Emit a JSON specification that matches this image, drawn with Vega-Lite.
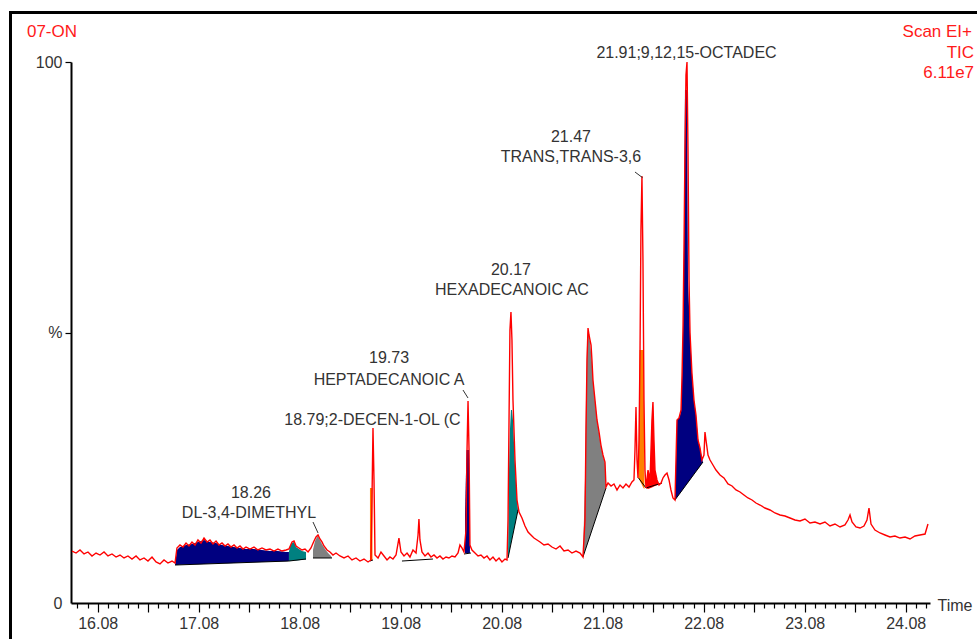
{
  "$schema": "https://vega.github.io/schema/vega-lite/v6.json",
  "width": 859,
  "height": 541,
  "autosize": {"type": "none"},
  "padding": {"left": 71, "top": 62, "right": 47, "bottom": 36},
  "background": "white",
  "config": {"view": {"stroke": null}, "font": "Liberation Sans"},
  "datasets": {
    "trace": [
      {"t":15.826,"v":9.61},{"t":15.866,"v":9.24},{"t":15.905,"v":9.80},{"t":15.945,"v":9.06},{"t":15.984,"v":9.43},{"t":16.024,"v":8.69},{"t":16.064,"v":9.24},{"t":16.103,"v":8.87},{"t":16.143,"v":9.43},{"t":16.182,"v":8.69},{"t":16.222,"v":9.06},{"t":16.262,"v":8.50},{"t":16.301,"v":8.87},{"t":16.341,"v":8.32},{"t":16.380,"v":8.69},{"t":16.420,"v":8.13},{"t":16.460,"v":8.69},{"t":16.499,"v":7.95},{"t":16.539,"v":8.32},{"t":16.578,"v":7.76},{"t":16.618,"v":8.50},{"t":16.658,"v":7.58},{"t":16.697,"v":7.21},{"t":16.737,"v":7.95},{"t":16.776,"v":7.39},{"t":16.816,"v":7.76},{"t":16.846,"v":7.39},
      {"t":16.865,"v":10.17},{"t":16.895,"v":10.72},{"t":16.925,"v":10.35},{"t":16.955,"v":11.09},{"t":16.984,"v":10.54},{"t":17.014,"v":11.28},{"t":17.044,"v":10.72},{"t":17.073,"v":11.65},{"t":17.103,"v":11.09},{"t":17.133,"v":12.01},{"t":17.163,"v":11.28},{"t":17.192,"v":11.65},{"t":17.222,"v":10.91},{"t":17.252,"v":11.46},{"t":17.281,"v":10.72},{"t":17.311,"v":11.09},{"t":17.341,"v":10.54},{"t":17.370,"v":10.91},{"t":17.400,"v":10.35},{"t":17.430,"v":10.72},{"t":17.460,"v":10.17},{"t":17.489,"v":10.54},{"t":17.519,"v":9.98},{"t":17.549,"v":10.35},{"t":17.588,"v":9.98},{"t":17.628,"v":10.35},{"t":17.667,"v":9.80},{"t":17.707,"v":10.17},{"t":17.747,"v":9.80},{"t":17.786,"v":9.98},{"t":17.826,"v":9.61},{"t":17.865,"v":9.98},{"t":17.905,"v":9.61},{"t":17.945,"v":9.80},{"t":17.974,"v":9.98},
      {"t":18.004,"v":11.28},{"t":18.024,"v":11.46},{"t":18.044,"v":10.54},{"t":18.073,"v":10.17},{"t":18.103,"v":9.80},{"t":18.133,"v":9.98},{"t":18.163,"v":9.43},{"t":18.192,"v":10.17},{"t":18.222,"v":11.46},{"t":18.242,"v":12.20},{"t":18.262,"v":12.57},{"t":18.281,"v":11.83},{"t":18.301,"v":11.28},{"t":18.321,"v":10.54},{"t":18.351,"v":9.80},{"t":18.380,"v":9.43},{"t":18.410,"v":8.87},{"t":18.440,"v":9.24},{"t":18.479,"v":8.69},{"t":18.519,"v":8.32},{"t":18.559,"v":8.69},{"t":18.598,"v":7.95},{"t":18.638,"v":8.32},{"t":18.677,"v":7.76},{"t":18.717,"v":8.13},{"t":18.757,"v":7.58},{"t":18.786,"v":7.95},
      {"t":18.796,"v":19.04},{"t":18.806,"v":32.35},{"t":18.816,"v":22.74},{"t":18.826,"v":8.87},{"t":18.856,"v":8.32},{"t":18.885,"v":9.43},{"t":18.915,"v":8.69},{"t":18.945,"v":7.95},{"t":18.974,"v":8.50},{"t":19.004,"v":8.13},{"t":19.034,"v":8.87},{"t":19.063,"v":12.01},{"t":19.083,"v":9.43},{"t":19.113,"v":8.69},{"t":19.143,"v":9.24},{"t":19.172,"v":8.50},{"t":19.202,"v":9.80},{"t":19.232,"v":9.24},{"t":19.252,"v":12.57},{"t":19.261,"v":15.53},{"t":19.271,"v":11.65},{"t":19.291,"v":9.43},{"t":19.321,"v":8.69},{"t":19.351,"v":9.24},{"t":19.380,"v":8.50},{"t":19.410,"v":8.87},{"t":19.440,"v":8.32},{"t":19.469,"v":8.69},{"t":19.499,"v":8.13},{"t":19.529,"v":8.50},{"t":19.558,"v":8.32},{"t":19.588,"v":8.69},{"t":19.618,"v":8.50},{"t":19.648,"v":9.24},{"t":19.667,"v":10.72},{"t":19.687,"v":10.17},{"t":19.707,"v":9.43},
      {"t":19.727,"v":13.49},{"t":19.737,"v":28.28},{"t":19.747,"v":37.34},{"t":19.757,"v":28.28},{"t":19.766,"v":10.72},{"t":19.786,"v":9.80},{"t":19.816,"v":9.24},{"t":19.846,"v":8.69},{"t":19.875,"v":8.87},{"t":19.905,"v":8.32},{"t":19.935,"v":8.69},{"t":19.964,"v":7.95},{"t":19.994,"v":8.50},{"t":20.024,"v":7.76},{"t":20.054,"v":8.32},{"t":20.083,"v":7.58},{"t":20.113,"v":8.13},{"t":20.133,"v":7.95},
      {"t":20.143,"v":15.34},{"t":20.153,"v":33.83},{"t":20.162,"v":50.46},{"t":20.172,"v":53.79},{"t":20.182,"v":48.61},{"t":20.192,"v":37.52},{"t":20.212,"v":26.43},{"t":20.232,"v":19.04},{"t":20.252,"v":16.82},{"t":20.281,"v":15.71},{"t":20.311,"v":14.23},{"t":20.341,"v":13.12},{"t":20.370,"v":12.57},{"t":20.400,"v":12.01},{"t":20.430,"v":11.65},{"t":20.460,"v":11.28},{"t":20.499,"v":10.72},{"t":20.539,"v":10.91},{"t":20.578,"v":10.35},{"t":20.618,"v":9.98},{"t":20.658,"v":10.54},{"t":20.697,"v":9.61},{"t":20.737,"v":9.80},{"t":20.776,"v":9.24},{"t":20.816,"v":9.61},{"t":20.856,"v":9.24},{"t":20.885,"v":8.50},
      {"t":20.905,"v":15.34},{"t":20.915,"v":31.98},{"t":20.925,"v":44.92},{"t":20.935,"v":50.83},{"t":20.945,"v":49.54},{"t":20.955,"v":48.61},{"t":20.965,"v":47.69},{"t":20.974,"v":44.92},{"t":20.984,"v":41.22},{"t":21.004,"v":37.52},{"t":21.024,"v":33.83},{"t":21.044,"v":31.61},{"t":21.063,"v":29.20},{"t":21.083,"v":27.36},{"t":21.103,"v":26.06},{"t":21.113,"v":21.44},{"t":21.133,"v":22.18},{"t":21.163,"v":21.63},{"t":21.192,"v":22.00},{"t":21.222,"v":20.89},{"t":21.252,"v":21.81},{"t":21.281,"v":21.26},{"t":21.311,"v":22.00},{"t":21.341,"v":21.44},{"t":21.370,"v":22.37},{"t":21.390,"v":22.74},
      {"t":21.400,"v":28.28},{"t":21.410,"v":36.23},{"t":21.420,"v":26.43},{"t":21.430,"v":23.11},{"t":21.440,"v":30.13},{"t":21.450,"v":46.77},{"t":21.459,"v":68.94},{"t":21.469,"v":78.93},{"t":21.479,"v":63.40},{"t":21.489,"v":37.52},{"t":21.499,"v":24.58},{"t":21.509,"v":21.26},{"t":21.529,"v":24.58},{"t":21.549,"v":22.74},{"t":21.568,"v":33.83},{"t":21.578,"v":37.15},{"t":21.588,"v":30.13},{"t":21.598,"v":24.58},{"t":21.618,"v":22.74},{"t":21.638,"v":21.81},{"t":21.658,"v":22.18},{"t":21.677,"v":23.11},{"t":21.697,"v":23.66},{"t":21.717,"v":24.03},{"t":21.737,"v":22.74},{"t":21.756,"v":20.89},{"t":21.776,"v":19.41},{"t":21.796,"v":19.04},
      {"t":21.806,"v":26.43},{"t":21.816,"v":33.83},{"t":21.836,"v":34.20},{"t":21.856,"v":35.67},{"t":21.866,"v":42.14},{"t":21.876,"v":51.39},{"t":21.885,"v":65.25},{"t":21.895,"v":83.73},{"t":21.905,"v":97.60},{"t":21.915,"v":100.0},{"t":21.925,"v":83.73},{"t":21.935,"v":59.70},{"t":21.945,"v":49.91},{"t":21.964,"v":42.51},{"t":21.984,"v":37.52},{"t":22.004,"v":34.75},{"t":22.024,"v":30.13},{"t":22.044,"v":28.65},{"t":22.063,"v":26.43},{"t":22.083,"v":27.36},{"t":22.093,"v":31.61},{"t":22.103,"v":30.13},{"t":22.123,"v":27.36},{"t":22.143,"v":26.43},{"t":22.172,"v":25.51},{"t":22.202,"v":24.58},{"t":22.242,"v":23.66},{"t":22.281,"v":23.11},{"t":22.321,"v":22.00},{"t":22.361,"v":21.63},{"t":22.400,"v":20.89},{"t":22.440,"v":20.52},{"t":22.479,"v":19.96},{"t":22.519,"v":19.41},{"t":22.559,"v":19.04},{"t":22.598,"v":18.48},{"t":22.638,"v":18.11},{"t":22.687,"v":17.56},{"t":22.737,"v":17.19},{"t":22.786,"v":16.64},{"t":22.836,"v":16.27},{"t":22.885,"v":16.08},{"t":22.935,"v":15.71},{"t":22.984,"v":15.34},{"t":23.034,"v":15.16},{"t":23.083,"v":15.53},{"t":23.133,"v":14.79},{"t":23.182,"v":14.97},{"t":23.232,"v":14.60},{"t":23.281,"v":14.97},{"t":23.331,"v":14.23},{"t":23.380,"v":14.60},{"t":23.430,"v":14.05},{"t":23.479,"v":14.42},{"t":23.509,"v":15.34},{"t":23.529,"v":16.27},{"t":23.549,"v":14.97},{"t":23.588,"v":14.05},{"t":23.628,"v":13.86},{"t":23.667,"v":14.23},{"t":23.697,"v":15.34},{"t":23.717,"v":17.56},{"t":23.737,"v":14.60},{"t":23.776,"v":13.49},{"t":23.826,"v":12.94},{"t":23.875,"v":12.57},{"t":23.925,"v":12.20},{"t":23.974,"v":12.38},{"t":24.024,"v":12.01},{"t":24.074,"v":12.20},{"t":24.123,"v":11.83},{"t":24.172,"v":12.38},{"t":24.222,"v":12.57},{"t":24.272,"v":12.75},{"t":24.301,"v":14.60}
    ],
    "fills": [
      {"g":"n1","t":16.846,"v":7.02,"v2":7.02},{"g":"n1","t":16.865,"v":9.80,"v2":7.04},{"g":"n1","t":16.895,"v":10.35,"v2":7.06},{"g":"n1","t":16.955,"v":10.72,"v2":7.10},{"g":"n1","t":17.014,"v":10.91,"v2":7.14},{"g":"n1","t":17.073,"v":11.28,"v2":7.18},{"g":"n1","t":17.133,"v":11.65,"v2":7.21},{"g":"n1","t":17.192,"v":11.28,"v2":7.25},{"g":"n1","t":17.252,"v":11.09,"v2":7.29},{"g":"n1","t":17.311,"v":10.72,"v2":7.33},{"g":"n1","t":17.370,"v":10.54,"v2":7.37},{"g":"n1","t":17.430,"v":10.35,"v2":7.41},{"g":"n1","t":17.489,"v":10.17,"v2":7.44},{"g":"n1","t":17.549,"v":9.98,"v2":7.48},{"g":"n1","t":17.628,"v":9.98,"v2":7.54},{"g":"n1","t":17.707,"v":9.80,"v2":7.59},{"g":"n1","t":17.786,"v":9.61,"v2":7.64},{"g":"n1","t":17.865,"v":9.61,"v2":7.69},{"g":"n1","t":17.945,"v":9.43,"v2":7.74},{"g":"n1","t":17.974,"v":9.43,"v2":7.76},
      {"g":"t1","t":17.974,"v":9.43,"v2":7.76},{"g":"t1","t":17.984,"v":10.54,"v2":7.78},{"g":"t1","t":18.004,"v":11.09,"v2":7.80},{"g":"t1","t":18.024,"v":11.28,"v2":7.84},{"g":"t1","t":18.044,"v":10.35,"v2":7.87},{"g":"t1","t":18.073,"v":9.98,"v2":7.91},{"g":"t1","t":18.103,"v":9.61,"v2":7.98},{"g":"t1","t":18.143,"v":9.43,"v2":8.06},
      {"g":"g1","t":18.212,"v":9.80,"v2":8.32},{"g":"g1","t":18.232,"v":11.46,"v2":8.32},{"g":"g1","t":18.252,"v":12.20,"v2":8.32},{"g":"g1","t":18.262,"v":12.38,"v2":8.32},{"g":"g1","t":18.281,"v":11.65,"v2":8.32},{"g":"g1","t":18.301,"v":10.91,"v2":8.32},{"g":"g1","t":18.331,"v":9.98,"v2":8.32},{"g":"g1","t":18.361,"v":9.24,"v2":8.32},{"g":"g1","t":18.390,"v":8.69,"v2":8.32},{"g":"g1","t":18.400,"v":8.32,"v2":8.32},
      {"g":"o1","t":18.776,"v":21.26,"v2":7.95},{"g":"o1","t":18.801,"v":21.26,"v2":7.95},
      {"g":"n2","t":19.717,"v":16.27,"v2":9.24},{"g":"n2","t":19.732,"v":28.28,"v2":9.24},{"g":"n2","t":19.757,"v":28.28,"v2":9.24},{"g":"n2","t":19.766,"v":16.64,"v2":9.24},
      {"g":"t2","t":20.143,"v":8.32,"v2":8.32},{"g":"t2","t":20.153,"v":24.58,"v2":9.21},{"g":"t2","t":20.162,"v":31.98,"v2":10.09},{"g":"t2","t":20.172,"v":35.67,"v2":10.98},{"g":"t2","t":20.182,"v":35.67,"v2":11.87},{"g":"t2","t":20.192,"v":33.83,"v2":12.75},{"g":"t2","t":20.212,"v":25.51,"v2":14.53},{"g":"t2","t":20.232,"v":19.04,"v2":16.30},{"g":"t2","t":20.242,"v":17.19,"v2":17.19},
      {"g":"g2","t":20.885,"v":8.50,"v2":8.50},{"g":"g2","t":20.905,"v":22.74,"v2":9.61},{"g":"g2","t":20.915,"v":37.52,"v2":10.17},{"g":"g2","t":20.925,"v":47.69,"v2":10.72},{"g":"g2","t":20.935,"v":50.46,"v2":11.28},{"g":"g2","t":20.955,"v":48.24,"v2":12.38},{"g":"g2","t":20.974,"v":44.55,"v2":13.49},{"g":"g2","t":20.984,"v":41.22,"v2":14.05},{"g":"g2","t":21.004,"v":37.52,"v2":15.16},{"g":"g2","t":21.024,"v":33.83,"v2":16.27},{"g":"g2","t":21.044,"v":31.42,"v2":17.38},{"g":"g2","t":21.063,"v":29.02,"v2":18.48},{"g":"g2","t":21.083,"v":27.17,"v2":19.59},{"g":"g2","t":21.103,"v":25.88,"v2":20.70},{"g":"g2","t":21.113,"v":21.26,"v2":21.26},
      {"g":"o2","t":21.435,"v":23.11,"v2":23.11},{"g":"o2","t":21.445,"v":46.77,"v2":22.74},{"g":"o2","t":21.484,"v":46.77,"v2":21.26},{"g":"o2","t":21.494,"v":21.07,"v2":21.07},
      {"g":"r1","t":21.509,"v":21.26,"v2":21.26},{"g":"r1","t":21.529,"v":24.58,"v2":21.05},{"g":"r1","t":21.549,"v":22.74,"v2":21.21},{"g":"r1","t":21.568,"v":33.83,"v2":21.37},{"g":"r1","t":21.578,"v":37.15,"v2":21.44},{"g":"r1","t":21.588,"v":30.13,"v2":21.53},{"g":"r1","t":21.598,"v":24.58,"v2":21.61},{"g":"r1","t":21.618,"v":22.74,"v2":21.77},{"g":"r1","t":21.638,"v":22.00,"v2":21.92},{"g":"r1","t":21.658,"v":22.18,"v2":22.11},{"g":"r1","t":21.668,"v":22.30,"v2":22.30},
      {"g":"n3","t":21.796,"v":19.04,"v2":19.04},{"g":"n3","t":21.806,"v":26.06,"v2":19.30},{"g":"n3","t":21.816,"v":33.83,"v2":19.54},{"g":"n3","t":21.836,"v":34.20,"v2":20.04},{"g":"n3","t":21.856,"v":35.30,"v2":20.54},{"g":"n3","t":21.866,"v":41.22,"v2":20.78},{"g":"n3","t":21.876,"v":50.46,"v2":21.04},{"g":"n3","t":21.885,"v":65.25,"v2":21.28},{"g":"n3","t":21.895,"v":94.82,"v2":21.53},{"g":"n3","t":21.915,"v":94.82,"v2":22.03},{"g":"n3","t":21.925,"v":59.70,"v2":22.29},{"g":"n3","t":21.945,"v":49.91,"v2":22.79},{"g":"n3","t":21.964,"v":42.51,"v2":23.29},{"g":"n3","t":21.984,"v":37.52,"v2":23.79},{"g":"n3","t":22.004,"v":34.75,"v2":24.29},{"g":"n3","t":22.024,"v":30.13,"v2":24.79},{"g":"n3","t":22.044,"v":28.65,"v2":25.30},{"g":"n3","t":22.063,"v":26.80,"v2":25.80},{"g":"n3","t":22.073,"v":26.06,"v2":26.06}
    ],
    "bases": [
      {"t":16.846,"v":7.02,"t2":17.974,"v2":7.76},
      {"t":17.974,"v":7.76,"t2":18.143,"v2":8.13},
      {"t":18.212,"v":8.32,"t2":18.400,"v2":8.32},
      {"t":18.776,"v":7.76,"t2":18.806,"v2":7.95},
      {"t":19.093,"v":7.76,"t2":19.400,"v2":8.13},
      {"t":19.707,"v":9.06,"t2":19.776,"v2":9.24},
      {"t":20.143,"v":8.32,"t2":20.242,"v2":17.19},
      {"t":20.885,"v":8.50,"t2":21.113,"v2":21.26},
      {"t":21.435,"v":23.11,"t2":21.509,"v2":21.26},
      {"t":21.509,"v":21.26,"t2":21.668,"v2":22.18},
      {"t":21.796,"v":19.04,"t2":22.073,"v2":26.06}
    ],
    "leaders": [
      {"t":18.212,"v":14.97,"t2":18.262,"v2":12.94},
      {"t":19.697,"v":39.37,"t2":19.747,"v2":37.89},
      {"t":21.400,"v":79.67,"t2":21.476,"v2":78.60}
    ],
    "labels": [
      {"t":17.598,"v":20.33,"text":"18.26"},
      {"t":17.578,"v":16.64,"text":"DL-3,4-DIMETHYL"},
      {"t":18.801,"v":33.83,"text":"18.79;2-DECEN-1-OL (C"},
      {"t":18.965,"v":45.29,"text":"19.73"},
      {"t":18.965,"v":41.22,"text":"HEPTADECANOIC A"},
      {"t":20.172,"v":61.55,"text":"20.17"},
      {"t":20.182,"v":57.86,"text":"HEXADECANOIC AC"},
      {"t":20.766,"v":86.14,"text":"21.47"},
      {"t":20.766,"v":82.44,"text":"TRANS,TRANS-3,6"},
      {"t":21.910,"v":101.66,"text":"21.91;9,12,15-OCTADEC"}
    ],
    "headLeft": [
      {"t":15.380,"v":105.55,"text":"07-ON"}
    ],
    "headRight": [
      {"t":24.737,"v":105.55,"text":"Scan EI+"},
      {"t":24.757,"v":101.66,"text":"TIC"},
      {"t":24.757,"v":97.97,"text":"6.11e7"}
    ],
    "frame": [
      {"t":15.217,"v":109.15,"t2":25.2,"v2":-10}
    ]
  },
  "encoding": {
    "x": {"field": "t", "type": "quantitative",
      "scale": {"domain": [15.816, 24.321], "nice": false, "zero": false},
      "axis": {
        "values": [15.88,15.98,16.08,16.18,16.28,16.38,16.48,16.58,16.68,16.78,16.88,16.98,17.08,17.18,17.28,17.38,17.48,17.58,17.68,17.78,17.88,17.98,18.08,18.18,18.28,18.38,18.48,18.58,18.68,18.78,18.88,18.98,19.08,19.18,19.28,19.38,19.48,19.58,19.68,19.78,19.88,19.98,20.08,20.18,20.28,20.38,20.48,20.58,20.68,20.78,20.88,20.98,21.08,21.18,21.28,21.38,21.48,21.58,21.68,21.78,21.88,21.98,22.08,22.18,22.28,22.38,22.48,22.58,22.68,22.78,22.88,22.98,23.08,23.18,23.28,23.38,23.48,23.58,23.68,23.78,23.88,23.98,24.08,24.18,24.28],
        "labelExpr": "round(datum.value*10 - 0.8) % 10 == 0 ? format(datum.value, '.2f') : ''",
        "labelOverlap": false,
        "labelFlush": false,
        "labelFont": "Liberation Sans",
        "labelFontSize": 16,
        "labelColor": "#333333",
        "labelPadding": 3,
        "tickSize": {"condition": {"test": "round(datum.value*10 - 0.8) % 5 == 0", "value": 9}, "value": 5},
        "tickColor": "#000000",
        "tickWidth": 1.2,
        "domainColor": "#000000",
        "domainWidth": 2,
        "grid": false,
        "orient": "bottom",
        "title": "Time",
        "titleX": 866,
        "titleY": 2,
        "titleAlign": "left",
        "titleBaseline": "middle",
        "titleFont": "Liberation Sans",
        "titleFontSize": 16,
        "titleFontWeight": "normal",
        "titleColor": "#333333"
      }
    },
    "y": {"field": "v", "type": "quantitative",
      "scale": {"domain": [0, 100], "nice": false, "zero": false},
      "axis": {
        "values": [0, 50, 100],
        "labelExpr": "datum.value == 50 ? '%' : format(datum.value, 'd')",
        "labelFont": "Liberation Sans",
        "labelFontSize": 16,
        "labelColor": "#333333",
        "labelPadding": 3,
        "tickSize": 6,
        "tickOpacity": {"condition": {"test": "datum.value == 0", "value": 0}, "value": 1},
        "tickColor": "#000000",
        "tickWidth": 1.2,
        "domainColor": "#000000",
        "domainWidth": 2,
        "grid": false,
        "title": null
      }
    }
  },
  "layer": [
    {
      "data": {"name": "fills"},
      "mark": {"type": "area", "interpolate": "linear"},
      "encoding": {
        "y2": {"field": "v2"},
        "color": {"field": "g", "type": "nominal", "legend": null,
          "scale": {"domain": ["n1","t1","g1","o1","n2","t2","g2","o2","r1","n3"],
                    "range": ["#000080","#008080","#808080","#ff8000","#000080","#008080","#808080","#ff8000","#ff0000","#000080"]}}
      }
    },
    {
      "data": {"name": "bases"},
      "mark": {"type": "rule", "color": "#000000", "strokeWidth": 1},
      "encoding": {"x2": {"field": "t2"}, "y2": {"field": "v2"}}
    },
    {
      "data": {"name": "trace"},
      "mark": {"type": "line", "color": "#ff0000", "strokeWidth": 1.4, "interpolate": "linear"},
      "encoding": {}
    },
    {
      "data": {"name": "leaders"},
      "mark": {"type": "rule", "color": "#333333", "strokeWidth": 1},
      "encoding": {"x2": {"field": "t2"}, "y2": {"field": "v2"}}
    },
    {
      "data": {"name": "labels"},
      "mark": {"type": "text", "align": "center", "baseline": "middle", "font": "Liberation Sans", "fontSize": 16, "color": "#333333"},
      "encoding": {"text": {"field": "text", "type": "nominal"}}
    },
    {
      "data": {"name": "headLeft"},
      "mark": {"type": "text", "align": "left", "baseline": "middle", "font": "Liberation Sans", "fontSize": 17, "color": "#ff1a1a"},
      "encoding": {"text": {"field": "text", "type": "nominal"}}
    },
    {
      "data": {"name": "headRight"},
      "mark": {"type": "text", "align": "right", "baseline": "middle", "font": "Liberation Sans", "fontSize": 17, "color": "#ff1a1a"},
      "encoding": {"text": {"field": "text", "type": "nominal"}}
    },
    {
      "data": {"name": "frame"},
      "mark": {"type": "rect", "filled": false, "stroke": "#000000", "strokeWidth": 3},
      "encoding": {"x2": {"field": "t2"}, "y2": {"field": "v2"}}
    }
  ]
}
